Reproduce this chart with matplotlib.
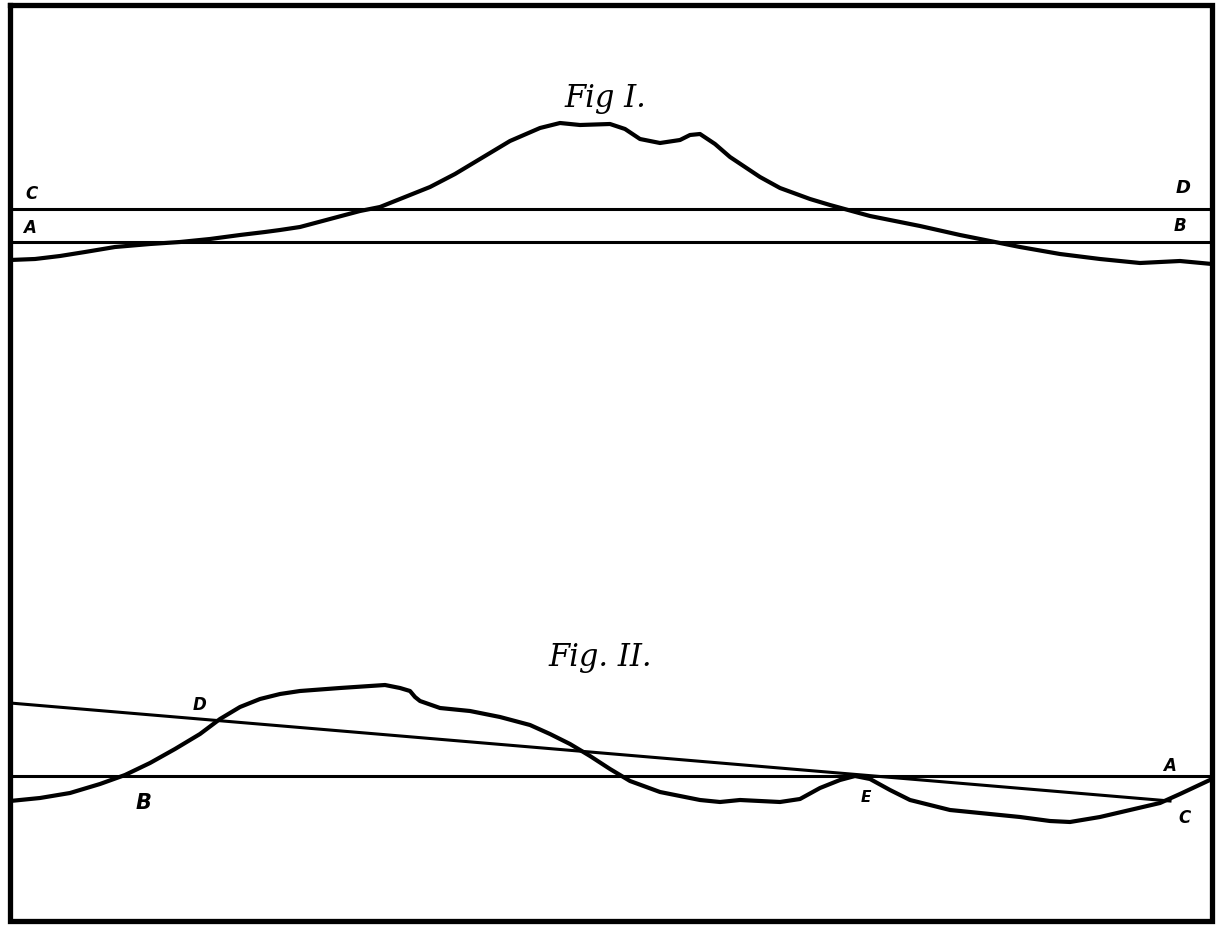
import matplotlib
matplotlib.use("Agg")
import matplotlib.pyplot as plt
import numpy as np

# Fig I profile (x, y in drawing units; y grows downward)
fig1_x = [10, 35, 60, 85, 115, 150, 180, 210, 240, 265, 280, 300, 330, 360, 380, 405,
          430, 455, 480, 510, 540, 560, 580, 610, 625, 640, 660, 680, 690, 700, 715,
          730, 760, 780, 810, 830, 870, 920, 960, 990, 1020, 1060, 1100, 1140, 1180, 1212]
fig1_y = [261, 260, 257, 253, 248, 245, 243, 240, 236, 233, 231, 228, 220, 212, 208, 198,
          188, 175, 160, 142, 129, 124, 126, 125, 130, 140, 144, 141, 136, 135, 145,
          158, 178, 189, 200, 206, 217, 227, 236, 242, 248, 255, 260, 264, 262, 265]
fig1_CD = 210
fig1_AB = 243

# Fig II profile
fig2_x = [10, 40, 70, 100, 125, 150, 175, 200, 220, 240, 260, 280, 300, 340, 370, 385,
          400, 410, 415, 420, 440, 470, 500, 530, 550, 570, 590, 610, 630, 660, 700,
          720, 740, 760, 780, 800, 820, 840, 855, 870, 890, 910, 950, 990, 1020, 1050,
          1070, 1100, 1130, 1160, 1180, 1212]
fig2_y = [802, 799, 794, 785, 776, 764, 750, 735, 720, 708, 700, 695, 692, 689, 687, 686,
          689, 692, 698, 702, 709, 712, 718, 726, 735, 745, 757, 770, 782, 793, 801,
          803, 801, 802, 803, 800, 789, 781, 777, 780, 791, 801, 811, 815, 818, 822,
          823, 818, 811, 804, 795, 780]
fig2_horiz = 777
fig2_slant_x = [10, 1170]
fig2_slant_y = [704, 802]

fig = plt.figure(figsize=(12.2, 9.28), dpi=100)
ax = fig.add_axes([0, 0, 1, 1])
ax.set_xlim(0, 1220)
ax.set_ylim(928, 0)
ax.axis("off")

k = "black"
# border
ax.plot([10, 1212, 1212, 10, 10], [6, 6, 922, 922, 6], color=k, lw=3.8,
        solid_joinstyle="miter")

# Fig I
ax.plot([10, 1212], [fig1_CD, fig1_CD], color=k, lw=2.2)
ax.plot([10, 1212], [fig1_AB, fig1_AB], color=k, lw=2.2)
ax.plot(fig1_x, fig1_y, color=k, lw=3.0, solid_joinstyle="round",
        solid_capstyle="round")

# Fig II
ax.plot([10, 1212], [fig2_horiz, fig2_horiz], color=k, lw=2.2)
ax.plot(fig2_slant_x, fig2_slant_y, color=k, lw=2.2)
ax.plot(fig2_x, fig2_y, color=k, lw=3.0, solid_joinstyle="round",
        solid_capstyle="round")

title = dict(family="DejaVu Serif", style="italic", weight="normal", color=k,
             ha="center", va="center")
lab = dict(family="DejaVu Sans", style="italic", weight="bold", color=k,
           ha="center", va="center")
ax.text(605, 98, "Fig I.", fontsize=22, **title)
ax.text(600, 658, "Fig. II.", fontsize=22, **title)

ax.text(32, 194, "C", fontsize=12, **lab)
ax.text(30, 228, "A", fontsize=12, **lab)
ax.text(1183, 188, "D", fontsize=13, **lab)
ax.text(1180, 226, "B", fontsize=12, **lab)

ax.text(200, 705, "D", fontsize=12, **lab)
ax.text(143, 803, "B", fontsize=15, **lab)
ax.text(866, 798, "E", fontsize=11, **lab)
ax.text(1170, 766, "A", fontsize=12, **lab)
ax.text(1185, 818, "C", fontsize=12, **lab)

fig.savefig("out.png", dpi=100, facecolor="white")
